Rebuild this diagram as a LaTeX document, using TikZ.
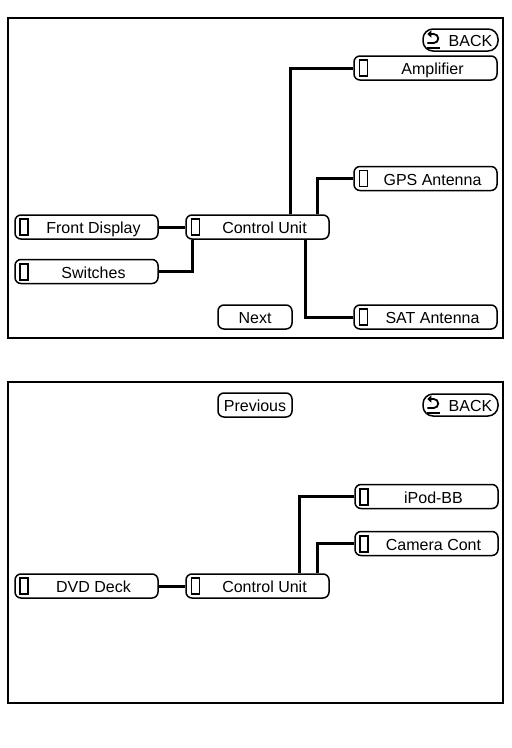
\documentclass[tikz,border=0pt]{standalone}
\usepackage{fontspec}
\setmainfont{Liberation Sans}
\usetikzlibrary{arrows.meta}

\tikzset{
  unit/.style={draw, line width=1.5pt, rounded corners=6pt, minimum width=143pt, minimum height=24pt, inner sep=0pt, text height=13pt, text depth=0pt},
  button/.style={draw, line width=1.5pt, rounded corners=6pt, minimum width=74pt, minimum height=24pt, inner sep=0pt, text height=13pt, text depth=0pt},
  backbtn/.style={draw, line width=1.5pt, rounded corners=10pt, minimum width=75pt, minimum height=22pt, inner sep=0pt, text height=13pt, text depth=0pt},
  wire/.style={line width=3pt},
  frame/.style={line width=1.5pt}
}

\begin{document}
\begin{tikzpicture}[x=1pt, y=-1pt, font=\fontsize{16}{19}\selectfont]
    \useasboundingbox (0,0) rectangle (512,748);

    % first screen
    \draw[frame] (8,18) rectangle (503,338);
    \node[backbtn] (back) at (460.5,40) {\hspace*{20pt}BACK};
    \node[unit] (amp) at (425.5,68) {\hspace*{14pt}Amplifier};
    \node[unit] (gps) at (425.5,178.5) {\hspace*{14pt}GPS Antenna};
    \node[unit] (sat) at (425.5,317) {\hspace*{14pt}SAT Antenna};
    \node[unit] (fd) at (86.5,227) {\hspace*{14pt}Front Display};
    \node[unit] (cu) at (257.5,227) {\hspace*{14pt}Control Unit};
    \node[unit] (sw) at (86.5,271.5) {\hspace*{14pt}Switches};
    \node[button] (next) at (255,317) {Next};

    \draw[wire] (fd.east) -- (cu.west);
    \draw[wire] (sw.east) -| ([xshift=7pt]cu.south west);
    \draw[wire] (amp.west) -| ([xshift=-39pt]cu.north east);
    \draw[wire] (gps.west) -| ([xshift=-12pt]cu.north east);
    \draw[wire] (sat.west) -| ([xshift=-24pt]cu.south east);

    % second screen
    \draw[frame] (8,382) rectangle (503,703);
    \node[button] (prev) at (255,405) {Previous};
    \node[backbtn] (backb) at (460.5,405) {\hspace*{20pt}BACK};
    \node[unit] (ipod) at (426.5,496.5) {\hspace*{14pt}iPod-BB};
    \node[unit] (cam) at (426.5,543.5) {\hspace*{14pt}Camera Cont};
    \node[unit] (dvd) at (86.5,586) {\hspace*{14pt}DVD Deck};
    \node[unit] (cub) at (257.5,586) {\hspace*{14pt}Control Unit};

    \draw[wire] (dvd.east) -- (cub.west);
    \draw[wire] (ipod.west) -| ([xshift=-30pt]cub.north east);
    \draw[wire] (cam.west) -| ([xshift=-12pt]cub.north east);

    % slot marks
    \foreach \n in {amp,gps,sat,cu,cub}
      \draw[line width=1.2pt] ([shift={(6pt,-8pt)}]\n.west) rectangle ++(8pt,16pt);
    \foreach \n in {fd,sw,dvd,ipod,cam}
      \draw[line width=2pt] ([shift={(6pt,-8pt)}]\n.west) rectangle ++(8pt,16pt);

    % return signs
    \foreach \n in {back,backb} {
      \draw[line width=1.8pt, -{Triangle[length=4pt,width=7pt]}]
        ([shift={(5pt,-3pt)}]\n.west) -- ++(6.5pt,0) arc[start angle=-90, end angle=90, radius=4.5pt] -- ++(-6.5pt,0);
      \draw[line width=1.8pt] ([shift={(5pt,-8pt)}]\n.west) -- ++(13pt,0);
    }
\end{tikzpicture}
\end{document}
